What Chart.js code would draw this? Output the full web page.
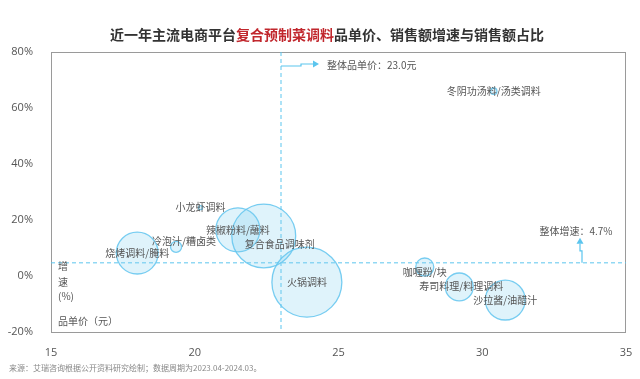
<!DOCTYPE html>
<html>
<head>
<meta charset="utf-8">
<script src="https://cdn.jsdelivr.net/npm/chart.js@4"></script>
<style>
  html, body { margin: 0; padding: 0; background: #fff; }
  #wrap { width: 640px; height: 379px; position: relative; }
</style>
</head>
<body>
<div id="wrap"><canvas id="chart"></canvas></div>
<script>
// Categories and values
const categories = ['冬阴功汤料/汤类调料', '小龙虾调料', '辣椒粉料/蘸料', '复合食品调味剂', '火锅调料',
    '烧烤调料/腌料', '冷泡汁/糟卤类', '咖喱粉/块', '寿司料理/料理调料', '沙拉酱/油醋汁'];
const unitPrice = [30.4, 20.2, 21.5, 22.4, 23.9, 18.0, 19.35, 28.0, 29.2, 30.8];   // 元
const growth = [66, 24.4, 16.5, 14.3, -2.2, 8.2, 10.4, 3.2, -3.9, -8.6];           // %
const salesShare = [0.2, 0.08, 9.5, 20, 24, 8.6, 0.6, 1.6, 3.8, 7.8];              // % of sales
const avgPrice = 23.0;
const avgGrowth = 4.7;
const xTicks = [15, 20, 25, 30, 35];
const yTicks = [-20, 0, 20, 40, 60, 80];

const lineBlue = '#5bc5ee';
const textGrey = '#555';

// label nudges (px) so texts sit like the original
const labelNudge = {
    '复合食品调味剂': [16, 8],
    '冷泡汁/糟卤类': [8, -6],
    '咖喱粉/块': [0, 5],
    '寿司料理/料理调料': [2, -1]
};

const points = categories.map((c, i) => ({ x: unitPrice[i], y: growth[i], r: Math.max(2, 7.14 * Math.sqrt(salesShare[i])), name: c }));

function arrowHead(ctx, x, y, dir) {
    ctx.beginPath();
    if (dir === 'right') {
        ctx.moveTo(x, y); ctx.lineTo(x - 6, y - 3.5); ctx.lineTo(x - 6, y + 3.5);
    } else {
        ctx.moveTo(x, y); ctx.lineTo(x - 3.5, y + 6); ctx.lineTo(x + 3.5, y + 6);
    }
    ctx.closePath();
    ctx.fill();
}

const decorPlugin = {
    id: 'decor',
    beforeDatasetsDraw(chart) {
        const { ctx, chartArea: a, scales } = chart;
        const vx = scales.x.getPixelForValue(avgPrice);
        const hy = scales.y.getPixelForValue(avgGrowth);
        ctx.save();
        // frame
        ctx.strokeStyle = '#9a9a9a';
        ctx.lineWidth = 1;
        ctx.strokeRect(a.left + 0.5, a.top + 0.5, a.right - a.left - 1, a.bottom - a.top);
        // average lines
        ctx.strokeStyle = lineBlue;
        ctx.setLineDash([4, 3]);
        ctx.beginPath();
        ctx.moveTo(vx, a.top); ctx.lineTo(vx, a.bottom);
        ctx.moveTo(a.left, hy); ctx.lineTo(a.right, hy);
        ctx.stroke();
        ctx.restore();
    },
    afterDraw(chart) {
        const { ctx, chartArea: a, scales } = chart;
        const vx = scales.x.getPixelForValue(avgPrice);
        const hy = scales.y.getPixelForValue(avgGrowth);
        ctx.save();
        // bubble labels
        ctx.font = '10px "Noto Sans CJK SC", sans-serif';
        ctx.fillStyle = textGrey;
        ctx.textAlign = 'center';
        ctx.textBaseline = 'middle';
        points.forEach(p => {
            const n = labelNudge[p.name] || [0, 0];
            ctx.fillText(p.name, scales.x.getPixelForValue(p.x) + n[0], scales.y.getPixelForValue(p.y) + n[1]);
        });

        // price annotation arrow
        ctx.strokeStyle = lineBlue;
        ctx.fillStyle = lineBlue;
        ctx.lineWidth = 1.2;
        const ay = a.top + 14;
        ctx.beginPath();
        ctx.moveTo(vx, ay); ctx.lineTo(vx + 20, ay); ctx.lineTo(vx + 20, ay - 2); ctx.lineTo(vx + 32, ay - 2);
        ctx.stroke();
        arrowHead(ctx, vx + 38, ay - 2, 'right');
        ctx.fillStyle = textGrey;
        ctx.textAlign = 'left';
        ctx.fillText('整体品单价：' + avgPrice.toFixed(1) + '元', vx + 46, ay - 1);

        // growth annotation arrow
        const ax = a.right - 44;
        ctx.fillStyle = lineBlue;
        ctx.beginPath();
        ctx.moveTo(ax, hy); ctx.lineTo(ax, hy - 12); ctx.lineTo(ax - 2, hy - 12); ctx.lineTo(ax - 2, hy - 19);
        ctx.stroke();
        arrowHead(ctx, ax - 2, hy - 25, 'up');
        ctx.fillStyle = textGrey;
        ctx.textAlign = 'center';
        ctx.fillText('整体增速：' + avgGrowth + '%', a.right - 50, hy - 32);

        // axis captions inside plot
        ctx.textAlign = 'left';
        ctx.fillText('增', a.left + 7, hy + 3);
        ctx.fillText('速', a.left + 7, hy + 19);
        ctx.fillText('(%)', a.left + 7, hy + 33);
        ctx.fillText('品单价（元）', a.left + 7, a.bottom - 11);

        // title
        ctx.font = 'bold 14px "Noto Sans CJK SC", sans-serif';
        ctx.textBaseline = 'middle';
        const parts = [['近一年主流电商平台', '#333'], ['复合预制菜调料', '#c1272d'], ['品单价、销售额增速与销售额占比', '#333']];
        const total = parts.reduce((s, p) => s + ctx.measureText(p[0]).width, 0);
        let tx = 327 - total / 2;
        parts.forEach(p => {
            ctx.fillStyle = p[1];
            ctx.fillText(p[0], tx, 35);
            tx += ctx.measureText(p[0]).width;
        });

        // source
        ctx.font = '8px "Noto Sans CJK SC", sans-serif';
        ctx.fillStyle = '#888';
        ctx.fillText('来源：艾瑞咨询根据公开资料研究绘制；数据周期为2023.04-2024.03。', 9, 368);
        ctx.restore();
    }
};

new Chart(document.getElementById('chart'), {
    type: 'bubble',
    data: {
        datasets: [{
            data: points,
            backgroundColor: 'rgba(120, 205, 240, 0.24)',
            borderColor: 'rgba(105, 200, 240, 0.9)',
            borderWidth: 1.3,
            hoverRadius: 0
        }]
    },
    options: {
        responsive: true,
        maintainAspectRatio: false,
        animation: false,
        events: [],
        layout: { autoPadding: false, padding: { top: 52, right: 14, left: 0, bottom: 0 } },
        plugins: { legend: { display: false }, tooltip: { enabled: false } },
        scales: {
            x: {
                min: xTicks[0],
                max: xTicks[xTicks.length - 1],
                afterBuildTicks: s => { s.ticks = xTicks.map(v => ({ value: v })); },
                afterFit: s => { s.height = 47; s.paddingLeft = 0; s.paddingRight = 0; },
                grid: { display: false },
                border: { display: false },
                ticks: { color: textGrey, font: { size: 11, family: 'Open Sans, sans-serif' }, padding: 6 }
            },
            y: {
                min: yTicks[0],
                max: yTicks[yTicks.length - 1],
                afterBuildTicks: s => { s.ticks = yTicks.map(v => ({ value: v })); },
                afterFit: s => { s.width = 51; s.paddingTop = 0; s.paddingBottom = 0; },
                grid: { display: false },
                border: { display: false },
                ticks: { color: textGrey, font: { size: 11, family: 'Open Sans, sans-serif' }, padding: 10, callback: v => v + '%' }
            }
        }
    },
    plugins: [decorPlugin]
});
</script>
</body>
</html>
